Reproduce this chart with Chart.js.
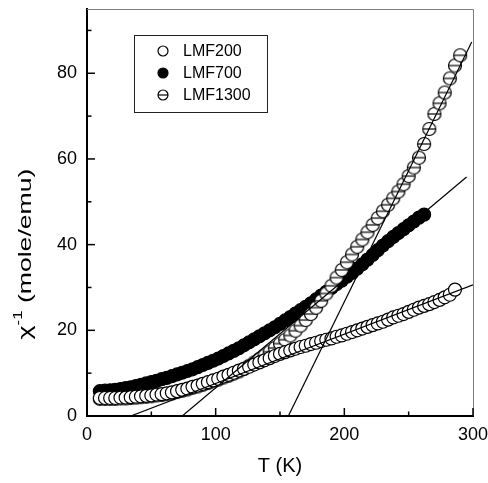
<!DOCTYPE html>
<html><head><meta charset="utf-8">
<script src="https://cdn.jsdelivr.net/npm/chart.js@4.4.0/dist/chart.umd.min.js"></script>
<style>html,body{margin:0;padding:0;background:#fff;}#wrap{width:488px;height:483px;position:relative;}</style>
</head><body><div id="wrap"><canvas id="c" width="488" height="483"></canvas></div>
<script>
// Temperature grid (K) shared by all three samples
const temperatures = [10,14,18,22,26,30,34,38,42,46,50,54,58,62,66,70,74,78,82,86,90,94,98,102,106,110,114,118,122,126,130,134,138,142,146,150,154,158,162,166,170,174,178,182,186,190,194,198,202,206,210,214,218,222,226,230,234,238,242,246,250,254,258,262,266,270,274,278,282,286,290];
// inverse susceptibility (mole/emu)
const lmf200 = [4.2,4.2,4.2,4.2,4.3,4.3,4.4,4.5,4.6,4.7,4.8,5.0,5.1,5.3,5.5,5.8,6.1,6.4,6.8,7.1,7.5,7.9,8.3,8.7,9.2,9.6,10.1,10.6,11.0,11.5,12.0,12.5,13.0,13.5,14.0,14.5,14.9,15.3,15.7,16.1,16.4,16.8,17.1,17.5,17.8,18.1,18.5,18.8,19.2,19.6,20.0,20.4,20.8,21.2,21.6,22.0,22.5,23.0,23.4,23.8,24.3,24.8,25.3,25.7,26.1,26.6,27.1,27.7,28.3,29.5];
const lmf700 = [5.8,5.9,6.0,6.1,6.3,6.5,6.7,7.0,7.3,7.6,7.9,8.2,8.6,8.9,9.3,9.7,10.1,10.5,10.9,11.4,11.9,12.4,12.9,13.4,14.0,14.6,15.2,15.8,16.5,17.2,17.9,18.6,19.3,20.0,20.7,21.5,22.3,23.1,23.9,24.7,25.5,26.3,27.2,28.1,29.0,29.9,30.8,31.6,32.5,33.4,34.4,35.4,36.5,37.6,38.7,39.8,40.8,41.8,42.7,43.6,44.5,45.4,46.3,47.0];
const lmf1300 = [4.0,4.0,4.0,4.0,4.1,4.1,4.2,4.3,4.4,4.5,4.6,4.8,4.9,5.1,5.3,5.6,5.9,6.2,6.6,6.9,7.3,7.7,8.1,8.5,9.0,9.4,9.9,10.4,11.0,11.7,12.5,13.3,14.1,15.0,15.9,16.9,17.8,18.8,19.9,21.1,22.4,23.8,25.3,26.9,28.6,30.4,32.3,34.1,35.9,37.7,39.5,41.2,42.9,44.6,46.2,47.8,49.3,50.8,52.4,54.1,56.0,58.0,60.3,63.5,67.0,70.5,73.0,75.5,78.8,81.8,84.2];
// Curie-Weiss fit lines: end points (T, value)
const fit200T = [34, 300],   fit200V = [0, 30.6];
const fit700T = [74, 295],   fit700V = [0, 55.8];
const fit1300T = [156.5, 299], fit1300V = [0, 87.3];
const seriesNames = ['LMF200','LMF700','LMF1300'];
const xTickLabels = [0,100,200,300];
const yTickLabels = [0,20,40,60,80];

const FONT = "'Liberation Sans', Arial, Helvetica, sans-serif";
Chart.defaults.font.family = FONT;
Chart.defaults.color = '#000';
const R = 6.5;

function pts(xs, ys){ return ys.map((v,i)=>({x:xs[i], y:v})); }

function makeTheta(r){
  const s = Math.ceil(2*r+3);
  const c = document.createElement('canvas'); c.width = s; c.height = s;
  const g = c.getContext('2d'); const m = s/2;
  g.beginPath(); g.arc(m,m,r,0,Math.PI*2); g.fillStyle='#fff'; g.fill();
  g.lineWidth=1.2; g.strokeStyle='#000'; g.stroke();
  g.beginPath(); g.moveTo(m-r,m); g.lineTo(m+r,m); g.stroke();
  return c;
}
const thetaPt = makeTheta(R);

function drawSym(ctx, kind, x, y, r){
  ctx.save(); ctx.lineWidth=1.2; ctx.strokeStyle='#000';
  ctx.beginPath(); ctx.arc(x,y,r,0,Math.PI*2);
  ctx.fillStyle = kind===1 ? '#000' : '#fff'; ctx.fill(); ctx.stroke();
  if (kind===2){ ctx.beginPath(); ctx.moveTo(x-r,y); ctx.lineTo(x+r,y); ctx.stroke(); }
  ctx.restore();
}

const decor = {
  id:'decor',
  afterDraw(chart){
    const ctx = chart.ctx, a = chart.chartArea, xs = chart.scales.x, ys = chart.scales.y;
    ctx.save();
    ctx.strokeStyle='#808080'; ctx.lineWidth=1;
    ctx.beginPath(); ctx.moveTo(a.left, a.top+0.5); ctx.lineTo(a.right+0.5, a.top+0.5); ctx.lineTo(a.right+0.5, a.bottom); ctx.stroke();
    ctx.strokeStyle='#000'; ctx.lineWidth=1.5;
    xs.ticks.forEach(t=>{ if (t.value%50!==0) return; const p = xs.getPixelForValue(t.value); const L = t.value%100===0?8:4.5;
      ctx.beginPath(); ctx.moveTo(p, a.bottom); ctx.lineTo(p, a.bottom-L); ctx.stroke(); });
    ys.ticks.forEach(t=>{ if (t.value%10!==0) return; const p = ys.getPixelForValue(t.value); const L = t.value%20===0?8:4.5;
      ctx.beginPath(); ctx.moveTo(a.left, p); ctx.lineTo(a.left+L, p); ctx.stroke(); });
    ctx.lineWidth=1; ctx.strokeStyle='#222';
    ctx.strokeRect(134.5, 35.5, 133, 77);
    ctx.font = '16px '+FONT; ctx.fillStyle='#000'; ctx.textBaseline='middle'; ctx.textAlign='left';
    const rows=[51,73,95];
    seriesNames.forEach((n,i)=>{ drawSym(ctx,i,163,rows[i],5); ctx.fillText(n,183,rows[i]+1); });
    ctx.translate(31, 254); ctx.rotate(-Math.PI/2); ctx.scale(1.4,1);
    const f1 = '19px '+FONT, f2 = '12px '+FONT;
    ctx.font=f1; const w1 = ctx.measureText('\u03c7').width; const w3 = ctx.measureText(' (mole/emu)').width;
    ctx.font=f2; const w2 = ctx.measureText('-1').width;
    let x0 = -(w1+w2+w3)/2;
    ctx.textBaseline='alphabetic';
    ctx.font=f1; ctx.fillText('\u03c7', x0, 0); x0+=w1;
    ctx.font=f2; ctx.fillText('-1', x0, -9); x0+=w2;
    ctx.font=f1; ctx.fillText(' (mole/emu)', x0, 0);
    ctx.restore();
  }
};

const lineDs = (xs,ys)=>({type:'line', data:pts(xs,ys), showLine:true, borderColor:'#000', borderWidth:1.2, pointRadius:0, fill:false, order:0});

new Chart(document.getElementById('c'), {
  type:'scatter',
  data:{ datasets:[
    lineDs(fit200T, fit200V), lineDs(fit700T, fit700V), lineDs(fit1300T, fit1300V),
    {label:seriesNames[0], data:pts(temperatures,lmf200), pointRadius:R, pointBorderWidth:1.2, pointBorderColor:'#000', pointBackgroundColor:'#fff', order:1},
    {label:seriesNames[2], data:pts(temperatures,lmf1300), pointStyle:thetaPt, pointRadius:R, order:2},
    {label:seriesNames[1], data:pts(temperatures,lmf700), pointRadius:R, pointBorderWidth:1.2, pointBorderColor:'#000', pointBackgroundColor:'#000', order:3}
  ]},
  options:{
    responsive:false, animation:false, devicePixelRatio:1,
    layout:{padding:{top:9,right:15,left:0,bottom:0}},
    plugins:{legend:{display:false}, tooltip:{enabled:false}},
    scales:{
      x:{type:'linear', min:0, max:300,
        afterFit(s){ s.height = 67; s.paddingLeft = 0; s.paddingRight = 0; },
        grid:{display:false, drawTicks:false},
        border:{display:true, color:'#000', width:2},
        ticks:{stepSize:50, autoSkip:false, maxRotation:0, padding:8, font:{size:18},
          callback:v=> xTickLabels.includes(v) ? String(v) : ''},
        title:{display:true, text:'T (K)', font:{size:20}, padding:{top:0,bottom:5}}
      },
      y:{type:'linear', min:0, max:95,
        afterFit(s){ s.width = 87; s.paddingTop = 0; s.paddingBottom = 0; },
        grid:{display:false, drawTicks:false},
        border:{display:true, color:'#000', width:2},
        ticks:{stepSize:10, autoSkip:false, padding:10, font:{size:18},
          callback:v=> yTickLabels.includes(v) ? String(v) : ''}
      }
    }
  },
  plugins:[decor]
});
</script></body></html>
